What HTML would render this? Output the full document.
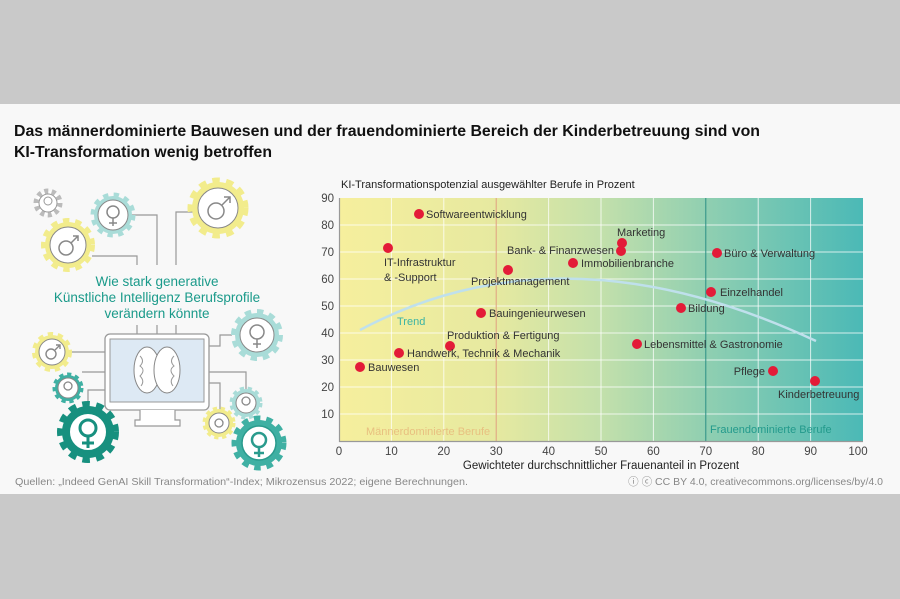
<!DOCTYPE html>
<html><head><meta charset="utf-8"><style>
html,body{margin:0;padding:0;background:#c9c9c9;}
svg{display:block;font-family:"Liberation Sans","DejaVu Sans",sans-serif;}
</style></head><body>
<svg width="900" height="599" viewBox="0 0 900 599" xmlns="http://www.w3.org/2000/svg">
<defs>
<linearGradient id="bg" x1="0" x2="1" y1="0" y2="0">
<stop offset="0" stop-color="#f6ef9d"/>
<stop offset="0.3" stop-color="#e6e9a0"/>
<stop offset="0.5" stop-color="#c3e0ab"/>
<stop offset="0.7" stop-color="#90cfb1"/>
<stop offset="1" stop-color="#4bb9b6"/>
</linearGradient>
</defs>
<rect x="0" y="0" width="900" height="599" fill="#c9c9c9"/>
<rect x="0" y="104" width="900" height="390" fill="#f8f8f8"/>
<text x="14" y="136" font-size="15.5" font-weight="bold" fill="#111" textLength="746" lengthAdjust="spacingAndGlyphs">Das männerdominierte Bauwesen und der frauendominierte Bereich der Kinderbetreuung sind von</text>
<text x="14" y="157" font-size="15.5" font-weight="bold" fill="#111" textLength="258" lengthAdjust="spacingAndGlyphs">KI-Transformation wenig betroffen</text>

<g stroke="#999" stroke-width="1.2" fill="none">
<path d="M130 215 H157 V265"/><path d="M176 265 V212 H200"/><path d="M92 256 H137 V265"/>
<path d="M137 325 V335 M157 325 V335 M176 325 V335"/>
<path d="M70 352 H105 M82 372 H105 M88 402 V390 H105"/>
<path d="M208 346 H220 V335 H232 M208 372 H246 V390 M208 383 H220 V410"/>
</g>
<rect x="105" y="334" width="104" height="76" rx="5" fill="#fff" stroke="#999" stroke-width="1.3"/>
<rect x="110" y="339" width="94" height="63" fill="#dde9f4" stroke="#999" stroke-width="1"/>
<path d="M140 410 V420 H135 V426 H180 V420 H175 V410" fill="#fff" stroke="#999" stroke-width="1.2"/>
<ellipse cx="147" cy="370" rx="13" ry="23" fill="#fff" stroke="#888"/>
<ellipse cx="167" cy="370" rx="13" ry="23" fill="#fff" stroke="#888"/>
<path d="M140 356 q5 5 0 10 q6 4 0 10 q5 5 1 10 M174 356 q-5 5 0 10 q-6 4 0 10 q-5 5 -1 10" fill="none" stroke="#999"/>

<g>
<g transform="translate(48,203)"><circle r="12" fill="#fff" stroke="#bbb" stroke-width="5" stroke-dasharray="4 3.5"/><circle r="9" fill="#fff" stroke="#999"/><circle cy="-2" r="4" fill="none" stroke="#999"/></g>
<g transform="translate(113,215)"><circle r="19" fill="#a9dcd8" stroke="#a9dcd8" stroke-width="7" stroke-dasharray="5 5"/><circle r="15" fill="#fff" stroke="#888"/><circle cy="-3" r="6" fill="none" stroke="#888" stroke-width="1.5"/><path d="M0 3 V11 M-4 8 H4" stroke="#888" stroke-width="1.5"/></g>
<g transform="translate(68,245)"><circle r="23" fill="#f2ec8c" stroke="#f2ec8c" stroke-width="8" stroke-dasharray="6 5.5"/><circle r="18" fill="#fff" stroke="#888"/><circle cx="-2" cy="3" r="7" fill="none" stroke="#888" stroke-width="1.5"/><path d="M3 -2 L10 -9 M5 -9 H10 V-4" fill="none" stroke="#888" stroke-width="1.5"/></g>
<g transform="translate(218,208)"><circle r="26" fill="#f2ec8c" stroke="#f2ec8c" stroke-width="9" stroke-dasharray="7 6"/><circle r="20" fill="#fff" stroke="#888"/><circle cx="-2" cy="3" r="8" fill="none" stroke="#888" stroke-width="1.5"/><path d="M4 -3 L12 -11 M6 -11 H12 V-5" fill="none" stroke="#888" stroke-width="1.5"/></g>
<g transform="translate(52,352)"><circle r="17" fill="#f2ec8c" stroke="#f2ec8c" stroke-width="6" stroke-dasharray="5 4.5"/><circle r="13" fill="#fff" stroke="#888"/><circle cx="-1" cy="2" r="5" fill="none" stroke="#888" stroke-width="1.4"/><path d="M3 -2 L8 -7 M4 -7 H8 V-3" fill="none" stroke="#888" stroke-width="1.4"/></g>
<g transform="translate(68,388)"><circle r="13" fill="#3fb0a3" stroke="#3fb0a3" stroke-width="5" stroke-dasharray="4 3.5"/><circle r="10" fill="#fff" stroke="#888"/><circle cy="-2" r="4" fill="none" stroke="#888" stroke-width="1.3"/></g>
<g transform="translate(88,432)"><circle r="26" fill="#17907f" stroke="#17907f" stroke-width="10" stroke-dasharray="7 6"/><circle r="19" fill="#fff" stroke="#17907f" stroke-width="2"/><circle cy="-4" r="8" fill="none" stroke="#17907f" stroke-width="3"/><path d="M0 4 V16 M-6 11 H6" stroke="#17907f" stroke-width="3"/></g>
<g transform="translate(257,335)"><circle r="22" fill="#a9dcd8" stroke="#a9dcd8" stroke-width="8" stroke-dasharray="6 5.5"/><circle r="17" fill="#fff" stroke="#888"/><circle cy="-3" r="7" fill="none" stroke="#888" stroke-width="1.5"/><path d="M0 4 V13 M-4 9 H4" stroke="#888" stroke-width="1.5"/></g>
<g transform="translate(246,403)"><circle r="14" fill="#a9dcd8" stroke="#a9dcd8" stroke-width="5" stroke-dasharray="4 3.5"/><circle r="10" fill="#fff" stroke="#888"/><circle cy="-2" r="4" fill="none" stroke="#888" stroke-width="1.3"/></g>
<g transform="translate(219,423)"><circle r="14" fill="#f2ec8c" stroke="#f2ec8c" stroke-width="5" stroke-dasharray="4 3.5"/><circle r="10" fill="#fff" stroke="#888"/><circle r="4" fill="none" stroke="#888" stroke-width="1.3"/></g>
<g transform="translate(259,443)"><circle r="23" fill="#3fb0a3" stroke="#3fb0a3" stroke-width="9" stroke-dasharray="6 5.5"/><circle r="17" fill="#fff" stroke="#2a9b8d" stroke-width="1.5"/><circle cy="-3" r="7" fill="none" stroke="#2a9b8d" stroke-width="2.5"/><path d="M0 4 V14 M-5 10 H5" stroke="#2a9b8d" stroke-width="2.5"/></g>
</g>
<g font-size="13.5" fill="#1a9a8a" text-anchor="middle">
<text x="157" y="286">Wie stark generative</text>
<text x="157" y="302">Künstliche Intelligenz Berufsprofile</text>
<text x="157" y="318">verändern könnte</text>
</g>

<text x="341" y="188" font-size="11" fill="#222">KI-Transformationspotenzial ausgewählter Berufe in Prozent</text>
<rect x="339" y="198" width="524" height="243" fill="url(#bg)"/>
<g stroke="#fff" stroke-opacity="0.75" stroke-width="1">
<path d="M339 225H863M339 252H863M339 279H863M339 306H863M339 333H863M339 360H863M339 387H863M339 414H863"/>
<path d="M391.4 198V441M443.8 198V441M548.6 198V441M601 198V441M653.4 198V441M758.2 198V441M810.6 198V441"/>
</g>
<path d="M496.2 198V441" stroke="#e0a080" stroke-width="1"/>
<path d="M705.8 198V441" stroke="#2b8f86" stroke-width="1"/>
<path d="M339.5 198V441.5H863" fill="none" stroke="#999" stroke-width="1.2"/>
<g font-size="11.5" fill="#444" text-anchor="end">
<text x="334" y="202">90</text><text x="334" y="229">80</text><text x="334" y="256">70</text><text x="334" y="283">60</text><text x="334" y="310">50</text><text x="334" y="337">40</text><text x="334" y="364">30</text><text x="334" y="391">20</text><text x="334" y="418">10</text>
</g>
<g font-size="11.5" fill="#444" text-anchor="middle">
<text x="339" y="455">0</text><text x="391.4" y="455">10</text><text x="443.8" y="455">20</text><text x="496.2" y="455">30</text><text x="548.6" y="455">40</text><text x="601" y="455">50</text><text x="653.4" y="455">60</text><text x="705.8" y="455">70</text><text x="758.2" y="455">80</text><text x="810.6" y="455">90</text><text x="858" y="455">100</text>
</g>
<text x="601" y="469" font-size="11.5" fill="#222" text-anchor="middle">Gewichteter durchschnittlicher Frauenanteil in Prozent</text>
<text x="366" y="435" font-size="11" fill="#e8c080">Männerdominierte Berufe</text>
<text x="710" y="433" font-size="11" fill="#239a8c">Frauendominierte Berufe</text>

<path d="M360 330 Q562 222 816 341" fill="none" stroke="#bfe0ec" stroke-width="2.5"/>
<text x="397" y="325" font-size="11" fill="#3bb4a4">Trend</text>

<g fill="#e31b38">
<circle cx="360" cy="367" r="5"/><circle cx="399" cy="353" r="5"/><circle cx="450" cy="346" r="5"/><circle cx="481" cy="313" r="5"/><circle cx="508" cy="270" r="5"/><circle cx="419" cy="214" r="5"/><circle cx="388" cy="248" r="5"/><circle cx="573" cy="263" r="5"/><circle cx="622" cy="243" r="5"/><circle cx="621" cy="251" r="5"/><circle cx="717" cy="253" r="5"/><circle cx="711" cy="292" r="5"/><circle cx="681" cy="308" r="5"/><circle cx="637" cy="344" r="5"/><circle cx="773" cy="371" r="5"/><circle cx="815" cy="381" r="5"/>
</g>
<g font-size="11" fill="#333">
<text x="368" y="371">Bauwesen</text>
<text x="407" y="357">Handwerk, Technik &amp; Mechanik</text>
<text x="447" y="339">Produktion &amp; Fertigung</text>
<text x="489" y="317">Bauingenieurwesen</text>
<text x="471" y="285">Projektmanagement</text>
<text x="426" y="218">Softwareentwicklung</text>
<text x="384" y="266">IT-Infrastruktur</text>
<text x="384" y="281">&amp; -Support</text>
<text x="581" y="267">Immobilienbranche</text>
<text x="617" y="236">Marketing</text>
<text x="614" y="254" text-anchor="end">Bank- &amp; Finanzwesen</text>
<text x="724" y="257">Büro &amp; Verwaltung</text>
<text x="720" y="296">Einzelhandel</text>
<text x="688" y="312">Bildung</text>
<text x="644" y="348">Lebensmittel &amp; Gastronomie</text>
<text x="765" y="375" text-anchor="end">Pflege</text>
<text x="778" y="398">Kinderbetreuung</text>
</g>

<text x="15" y="485" font-size="10.5" fill="#888" textLength="453" lengthAdjust="spacingAndGlyphs">Quellen: „Indeed GenAI Skill Transformation“-Index; Mikrozensus 2022; eigene Berechnungen.</text>
<text x="883" y="485" font-size="10.5" fill="#888" text-anchor="end">ⓘ ⓒ CC BY 4.0, creativecommons.org/licenses/by/4.0</text>
</svg>
</body></html>
